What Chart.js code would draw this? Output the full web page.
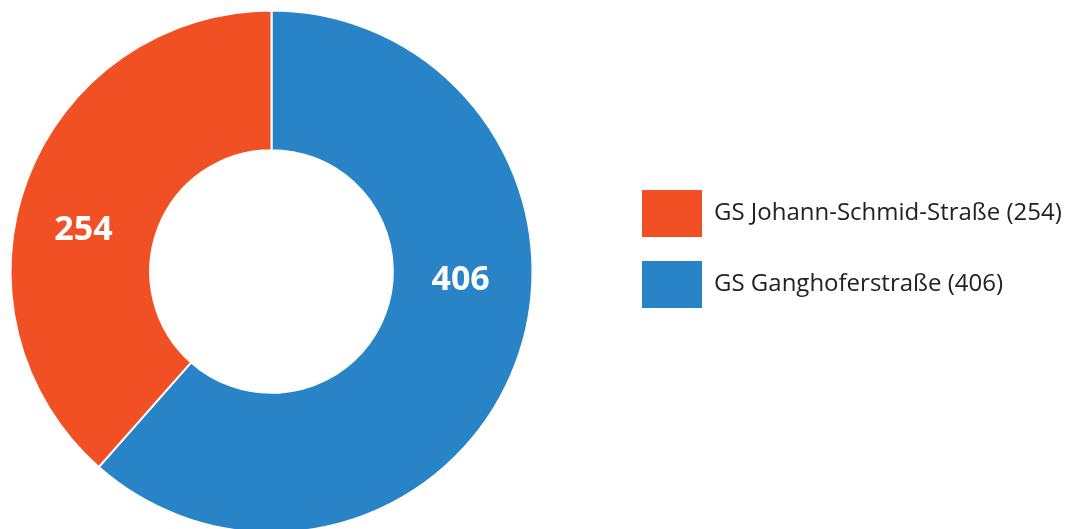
<!DOCTYPE html>
<html>
<head>
<meta charset="utf-8">
<script src="https://cdn.jsdelivr.net/npm/chart.js@4/dist/chart.umd.min.js"></script>
<style>
html,body{margin:0;padding:0;overflow:hidden;background:#fff}
#wrap{position:relative;width:1072px;height:543px}
</style>
</head>
<body>
<div id="wrap"><canvas id="c"></canvas></div>
<script>
// Data (drawn clockwise from the top; legend shown reversed)
const categories = ['GS Ganghoferstraße', 'GS Johann-Schmid-Straße'];
const values = [406, 254];
const sliceColors = ['#2983c7', '#f14f24'];

const LEGEND_WIDTH = 529;

const legendPlacePlugin = {
  id: 'legendPlace',
  beforeLayout(chart) {
    const lg = chart.legend;
    if (lg && !lg._fixedFit) {
      const orig = lg.fit.bind(lg);
      lg.fit = function () { orig(); this.width = LEGEND_WIDTH; };
      lg._fixedFit = true;
    }
  },
  afterLayout(chart) {
    const lg = chart.legend;
    if (!lg) return;
    lg.left = 618; lg.right = lg.left + lg.width;
    lg.top = 0; lg.bottom = 498; lg.height = 498;
  }
};

const sliceLabelPlugin = {
  id: 'sliceLabels',
  afterDatasetsDraw(chart, args, opts) {
    const meta = chart.getDatasetMeta(0);
    const data = chart.data.datasets[0].data;
    const ctx = chart.ctx;
    ctx.save();
    ctx.font = 'bold 34px "Open Sans"';
    ctx.fillStyle = '#ffffff';
    ctx.textAlign = 'center';
    ctx.textBaseline = 'middle';
    meta.data.forEach((arc, i) => {
      const p = arc.getProps(['x', 'y', 'startAngle', 'endAngle', 'innerRadius', 'outerRadius'], true);
      const f = opts.angleFraction[i];
      const a = p.startAngle + (p.endAngle - p.startAngle) * f;
      const r = (p.innerRadius + p.outerRadius) / 2;
      ctx.fillText(String(data[i]), p.x + Math.cos(a) * r - 2, p.y + Math.sin(a) * r + opts.dy);
    });
    ctx.restore();
  }
};

new Chart(document.getElementById('c'), {
  type: 'doughnut',
  data: {
    labels: categories,
    datasets: [{
      data: values,
      backgroundColor: sliceColors,
      borderColor: '#ffffff',
      borderWidth: 2,
      radius: 261,
      hoverOffset: 0
    }]
  },
  options: {
    responsive: true,
    maintainAspectRatio: false,
    animation: false,
    cutout: '46.5%',
    layout: { padding: 0 },
    plugins: {
      tooltip: { enabled: false },
      sliceLabels: { angleFraction: [0.414, 0.447], dy: 3 },
      legend: {
        position: 'right',
        reverse: true,
        align: 'center',
        labels: {
          boxWidth: 60,
          boxHeight: 47,
          padding: 24,
          color: '#222222',
          font: { family: '"Open Sans"', size: 24 },
          generateLabels(chart) {
            const ds = chart.data.datasets[0];
            return chart.data.labels.map((l, i) => ({
              text: l + ' (' + ds.data[i] + ')',
              fillStyle: ds.backgroundColor[i],
              strokeStyle: ds.backgroundColor[i],
              lineWidth: 0,
              fontColor: '#222222',
              hidden: false,
              index: i
            }));
          }
        }
      }
    }
  },
  plugins: [legendPlacePlugin, sliceLabelPlugin]
});
</script>
</body>
</html>
